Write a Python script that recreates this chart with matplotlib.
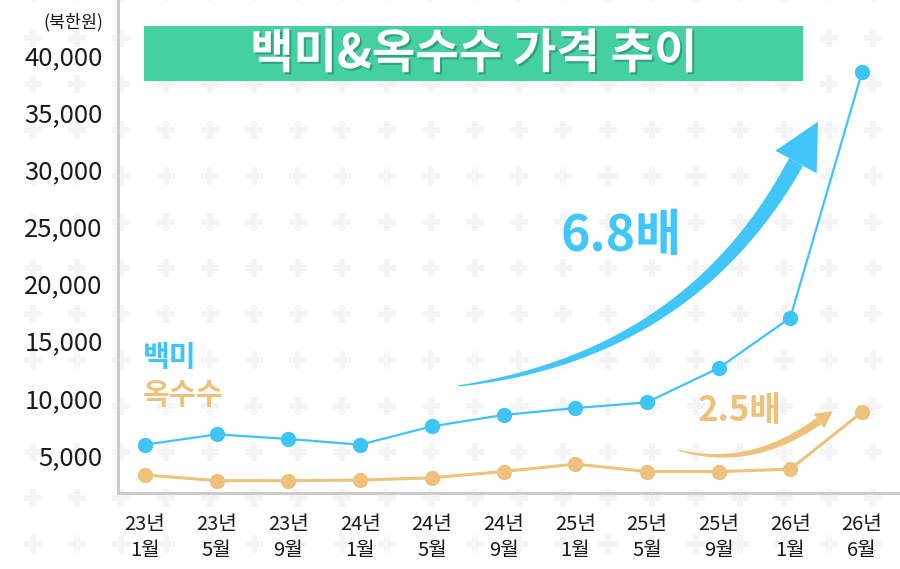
import numpy as np
import matplotlib
matplotlib.use('Agg')
import matplotlib.pyplot as plt
from matplotlib.patches import Polygon, Rectangle
import matplotlib.patheffects as pe

plt.rcParams['font.family'] = ['Noto Sans CJK KR', 'DejaVu Sans']

# data (북한원)
periods = ['23년\n1월', '23년\n5월', '23년\n9월', '24년\n1월', '24년\n5월', '24년\n9월',
           '25년\n1월', '25년\n5월', '25년\n9월', '26년\n1월', '26년\n6월']
rice = [5900, 6800, 6400, 5900, 7500, 8500, 9100, 9600, 12600, 17000, 38500]
corn = [3250, 2750, 2750, 2800, 3000, 3550, 4200, 3550, 3550, 3750, 8750]
y_ticks = [5000, 10000, 15000, 20000, 25000, 30000, 35000, 40000]

BLUE = '#3ec4f7'
ORANGE = '#eec27c'
GREEN = '#45d09f'
W, H = 900, 569

fig = plt.figure(figsize=(W / 100, H / 100), dpi=100)
fig.patch.set_facecolor('white')

# background plus pattern (pixel coords)
bg = fig.add_axes([0, 0, 1, 1], zorder=0)
bg.set_xlim(0, W)
bg.set_ylim(H, 0)
bg.axis('off')
gx, gy = np.meshgrid(np.arange(33, W, 44.2), np.arange(-8, H + 25, 46))
bg.scatter(gx.ravel(), gy.ravel(), marker='P', s=180, color='#f4f4f4', linewidths=0)

# main chart
ax = fig.add_axes([118 / W, 1 - 493 / H, 782 / W, 493 / H], zorder=1)
ax.patch.set_alpha(0)
x = np.arange(len(periods))
ax.plot(x, corn, color=ORANGE, lw=2.2, marker='o', ms=10, clip_on=False, zorder=3)
ax.plot(x, rice, color=BLUE, lw=1.6, marker='o', ms=10, clip_on=False, zorder=4)
ax.set_xlim(-0.377, 10.53)
ax.set_ylim(1670, 44810)
ax.set_yticks(y_ticks)
ax.set_yticklabels([f'{v:,}' for v in y_ticks], fontsize=18.5, color='#1a1a1a')
ax.set_xticks(x)
ax.set_xticklabels(periods, fontsize=14.5, color='#1a1a1a', linespacing=1.3)
ax.tick_params(axis='y', length=0, pad=11)
ax.tick_params(axis='x', length=0, pad=15)
for s in ['top', 'right']:
    ax.spines[s].set_visible(False)
for s in ['left', 'bottom']:
    ax.spines[s].set_color('#c9c9c9')
    ax.spines[s].set_linewidth(2)

# overlay for title box, arrows and labels (pixel coords)
ov = fig.add_axes([0, 0, 1, 1], zorder=2)
ov.set_xlim(0, W)
ov.set_ylim(H, 0)
ov.axis('off')

ov.add_patch(Rectangle((144, 26), 659, 55, color=GREEN, lw=0))
ov.text(474, 54, '백미&옥수수 가격 추이', color='white', fontsize=34, fontweight='bold',
        ha='center', va='center',
        path_effects=[pe.withSimplePatchShadow(offset=(1.5, -1.5), shadow_rgbFace='#1d6b50', alpha=0.45)])
ov.text(103, 22, '(북한원)', fontsize=12.5, ha='right', va='center', color='#1a1a1a')


def tapered_arrow(p0, p1, p2, w0, w1, head_w, head_len, color):
    p0, p1, p2 = np.array(p0, float), np.array(p1, float), np.array(p2, float)
    t = np.linspace(0, 1, 80)[:, None]
    pts = (1 - t) ** 2 * p0 + 2 * (1 - t) * t * p1 + t ** 2 * p2
    d = 2 * (1 - t) * (p1 - p0) + 2 * t * (p2 - p1)
    d = d / np.linalg.norm(d, axis=1, keepdims=True)
    n = np.column_stack([-d[:, 1], d[:, 0]])
    w = (w0 + (w1 - w0) * t ** 0.8) / 2
    body = np.vstack([pts + n * w, (pts - n * w)[::-1]])
    ov.add_patch(Polygon(body, closed=True, color=color, lw=0))
    u, nn = d[-1], n[-1]
    head = [p2 + nn * head_w / 2, p2 + u * head_len, p2 - nn * head_w / 2]
    ov.add_patch(Polygon(head, closed=True, color=color, lw=0))


tapered_arrow((458, 386), (690, 356), (796, 162), 1, 16, 47, 46, '#40c6f8')
tapered_arrow((678, 450), (750, 470), (819, 421), 1, 8, 18, 17, ORANGE)

ov.text(621, 236, '6.8배', color='#40c6f8', fontsize=36, fontweight='heavy', ha='center', va='center')
ov.text(740, 410, '2.5배', color=ORANGE, fontsize=25, fontweight='heavy', ha='center', va='center')
ov.text(143, 357, '백미', color=BLUE, fontsize=21, fontweight='heavy', ha='left', va='center')
ov.text(143, 395, '옥수수', color=ORANGE, fontsize=21, fontweight='heavy', ha='left', va='center')

fig.savefig('out.png', dpi=100, facecolor='white')
